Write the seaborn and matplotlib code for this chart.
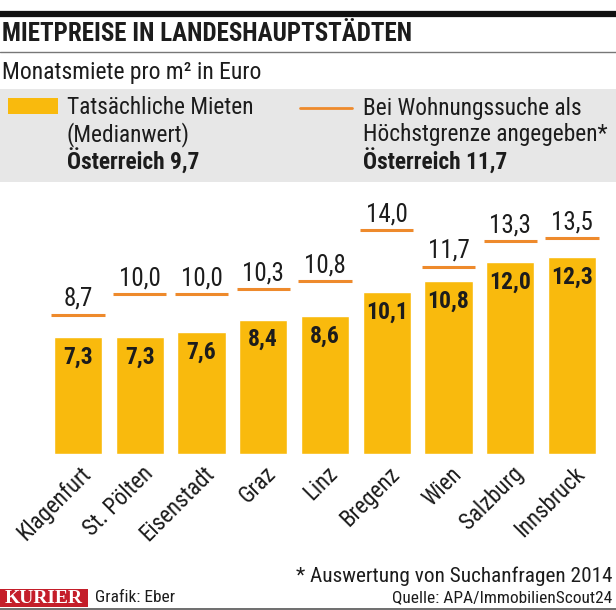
import numpy as np
import seaborn as sns
import matplotlib.pyplot as plt
import matplotlib.transforms as mtransforms
from matplotlib.patches import Rectangle
from matplotlib.lines import Line2D

cities = ["Klagenfurt", "St. Pölten", "Eisenstadt", "Graz", "Linz",
          "Bregenz", "Wien", "Salzburg", "Innsbruck"]
actual = [7.3, 7.3, 7.6, 8.4, 8.6, 10.1, 10.8, 12.0, 12.3]
search = [8.7, 10.0, 10.0, 10.3, 10.8, 14.0, 11.7, 13.3, 13.5]

YELLOW = "#F9BA0D"
ORANGE = "#EE8A2C"
DARK = "#1c1c1c"

sns.set_style("white")
plt.rcParams["font.family"] = ["Roboto Condensed", "Open Sans Condensed",
                               "Liberation Sans Narrow", "DejaVu Sans"]
plt.rcParams["font.stretch"] = "condensed"

W, H = 616, 610
fig = plt.figure(figsize=(W / 100, H / 100), dpi=100)


def fx(px):
    return px / W


def fy(py):
    return 1 - py / H


def txt(x, y, s, size, bold=False, ha="left", color=DARK, **kw):
    fig.text(fx(x), fy(y), s, fontsize=size, ha=ha, va="center",
             fontweight="bold" if bold else "normal", color=color, **kw)


# header
fig.add_artist(Line2D([0, 1], [fy(14), fy(14)], color="#111111", lw=4.5))
txt(2, 34, "MIETPREISE IN LANDESHAUPTSTÄDTEN", 18, bold=True)
fig.add_artist(Line2D([0, 1], [fy(52), fy(52)], color="#777777", lw=1))
txt(2, 72, "Monatsmiete pro m² in Euro", 17)

# legend box
fig.add_artist(Rectangle((0, fy(182)), 1, fy(89) - fy(182), transform=fig.transFigure,
                         facecolor="#E7E7E7", edgecolor="none", zorder=0))
fig.add_artist(Rectangle((fx(8), fy(114)), fx(50), fy(98) - fy(114),
                         transform=fig.transFigure, facecolor=YELLOW, edgecolor="none"))
txt(67, 108, "Tatsächliche Mieten", 16.8)
txt(67, 135, "(Medianwert)", 16.8)
txt(67, 162, "Österreich 9,7", 16.8, bold=True)
fig.add_artist(Line2D([fx(300), fx(352)], [fy(108), fy(108)], color=ORANGE, lw=2))
txt(363, 108, "Bei Wohnungssuche als", 16.8)
txt(363, 135, "Höchstgrenze angegeben*", 16.8)
txt(363, 162, "Österreich 11,7", 16.8, bold=True)

# bars
ax = fig.add_axes([0, fy(454), 1, fy(190) - fy(454)])
sns.barplot(x=cities, y=actual, color=YELLOW, saturation=1, width=0.78, ax=ax)
idx = np.arange(len(cities))
ax.hlines(search, idx - 0.43, idx + 0.43, color=ORANGE, lw=2.2)
for i, (a, s) in enumerate(zip(actual, search)):
    ax.annotate(f"{s:.1f}".replace(".", ","), (i, s), xytext=(0, 11.5),
                textcoords="offset points", ha="center", va="center",
                fontsize=18, color=DARK)
    ax.annotate(f"{a:.1f}".replace(".", ","), (i, a), xytext=(0, -14.5),
                textcoords="offset points", ha="center", va="center",
                fontsize=17, fontweight="bold", color=DARK)

ax.set_xlim((0 - 78) / 61.75, (W - 78) / 61.75)
ax.set_ylim(0, 264 / 16)
ax.set_yticks([])
ax.set_xlabel("")
ax.set_ylabel("")
ax.tick_params(axis="x", length=0, pad=6)
ax.set_xticks(idx)
ax.set_xticklabels(cities, rotation=45, ha="right", rotation_mode="anchor",
                   fontsize=16.5, color=DARK)
shift = mtransforms.ScaledTranslation(1 / 72, 0, fig.dpi_scale_trans)
for lab in ax.get_xticklabels():
    lab.set_transform(lab.get_transform() + shift)
sns.despine(ax=ax, left=True, bottom=True)
ax.patch.set_alpha(0)

# footer
txt(612, 576, "* Auswertung von Suchanfragen 2014", 15.3, ha="right")
fig.add_artist(Rectangle((0, fy(607)), fx(88), fy(589) - fy(607),
                         transform=fig.transFigure, facecolor="#C41E2A", edgecolor="none"))
fig.text(fx(44), fy(598.5), "KURIER", fontsize=14, ha="center", va="center",
         color="white", fontweight="bold", family=["Liberation Serif", "DejaVu Serif"],
         fontstretch="normal")
txt(95, 598, "Grafik: Eber", 12.5)
txt(612, 598, "Quelle: APA/ImmobilienScout24", 12.5, ha="right")
fig.add_artist(Line2D([0, 1], [fy(608.5), fy(608.5)], color="#555555", lw=1.2))

fig.savefig("out.png", dpi=100)
